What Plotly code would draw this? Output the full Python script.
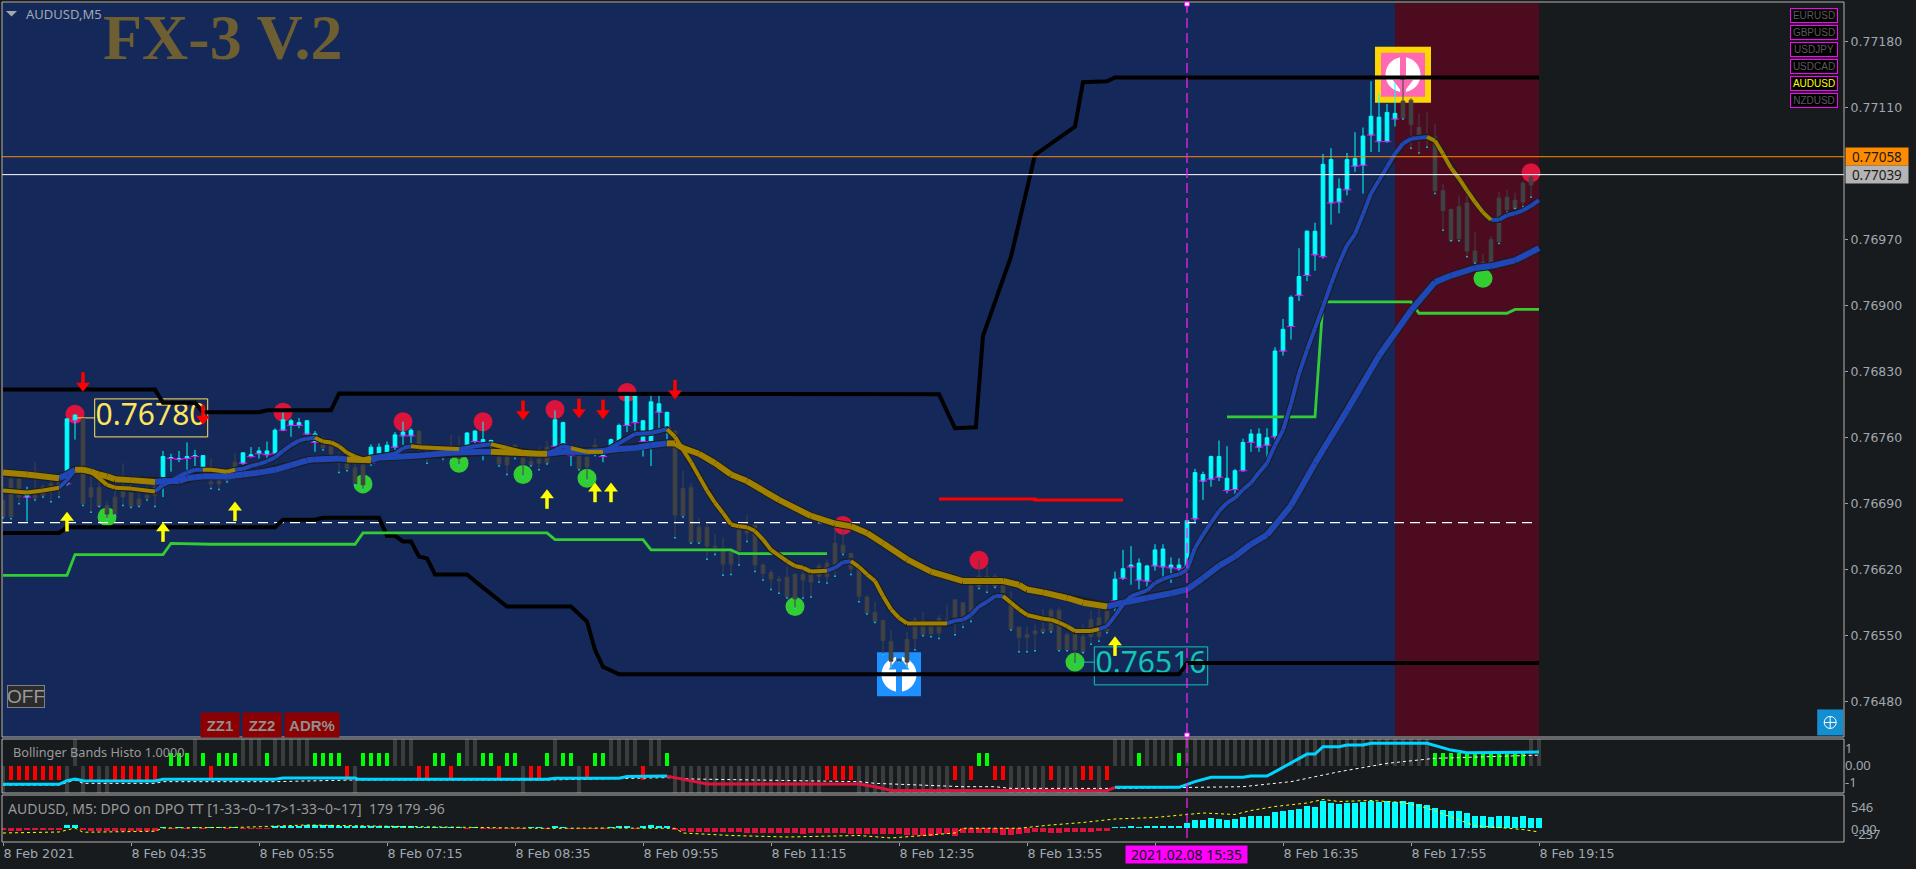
import plotly.graph_objects as go

# ---------- price data (in points, 76700 = 0.76700) ----------
body_top = [76694,76716,76716,76699,76699,76708,76711,76712,76780,76784,
76780,76707,76707,76688,76697,76704,76702,76695,76699,76708,
76740,76739,76738,76740,76741,76741,76713,76714,76720,76734,
76744,76742,76746,76746,76768,76779,76778,76776,76778,76764,
76753,76751,76740,76733,76728,76731,76750,76750,76752,76763,
76766,76768,76767,76749,76749,76749,76749,76750,76765,76767,
76758,76757,76739,76739,76752,76738,76735,76737,76750,76779,
76776,76749,76740,76739,76752,76747,76758,76773,76805,76805,
76778,76798,76796,76787,76767,76706,76707,76665,76665,76645,
76641,76639,76662,76662,76667,76625,76617,76610,76612,76615,
76615,76615,76624,76627,76648,76646,76637,76621,76591,76575,
76566,76544,76525,76546,76567,76566,76561,76568,76567,76588,
76585,76603,76613,76613,76613,76603,76586,76559,76551,76555,
76557,76577,76577,76551,76551,76549,76567,76569,76576,76610,
76621,76625,76627,76624,76641,76642,76625,76625,76672,76723,
76721,76740,76740,76717,76725,76755,76764,76764,76760,76852,
76875,76909,76931,76979,76979,77050,77055,77024,77055,77056,
77080,77101,77100,77105,77104,77117,77118,77089,77080,77079,
77022,77002,77005,77009,76958,76946,76970,77014,77015,77012,
77030,77036,77039]
body_bot = [76676,76676,76697,76697,76696,76699,76707,76706,76711,76778,
76690,76697,76687,76679,76679,76697,76687,76688,76696,76699,
76717,76738,76737,76738,76740,76728,76711,76711,76715,76727,
76733,76740,76743,76742,76743,76768,76773,76773,76764,76755,
76749,76743,76735,76727,76711,76710,76733,76741,76743,76750,
76762,76762,76749,76741,76741,76741,76741,76738,76751,76756,
76755,76752,76732,76731,76741,76732,76731,76733,76733,76751,
76753,76741,76727,76729,76743,76740,76749,76756,76773,76776,
76756,76756,76787,76770,76678,76677,76649,76649,76645,76644,
76626,76626,76640,76659,76625,76616,76610,76608,76591,76589,
76609,76607,76613,76613,76625,76638,76621,76592,76574,76565,
76545,76523,76523,76522,76547,76551,76552,76553,76566,76567,
76569,76569,76602,76606,76602,76593,76557,76548,76548,76552,
76554,76555,76535,76535,76535,76532,76549,76549,76555,76587,
76611,76623,76609,76608,76624,76623,76622,76621,76622,76674,
76714,76716,76718,76704,76705,76725,76755,76750,76752,76761,
76852,76878,76911,76932,76954,76952,77009,77010,77023,77048,
77049,77081,77074,77074,77098,77099,77092,77080,77079,77022,
77001,76969,76971,76958,76946,76944,76945,76968,77002,77003,
77010,77028,77039]
wick_high = [76726,76720,76720,76708,76734,76711,76715,76715,76780,76785,
76780,76727,76715,76693,76711,76733,76715,76706,76708,76715,
76746,76743,76746,76755,76747,76741,76738,76722,76726,76744,
76744,76750,76750,76756,76770,76787,76780,76781,76778,76767,
76761,76757,76745,76745,76733,76733,76753,76754,76756,76766,
76777,76770,76768,76752,76750,76750,76763,76762,76766,76768,
76777,76758,76754,76753,76752,76749,76745,76750,76757,76789,
76777,76752,76747,76741,76759,76749,76759,76775,76807,76807,
76779,76805,76805,76787,76768,76725,76712,76675,76668,76658,
76654,76641,76671,76678,76667,76627,76620,76614,76623,76616,
76625,76620,76627,76631,76664,76668,76638,76621,76593,76586,
76567,76556,76526,76554,76570,76575,76563,76572,76583,76588,
76585,76606,76631,76623,76616,76609,76597,76560,76560,76562,
76578,76580,76580,76553,76553,76562,76577,76580,76578,76618,
76641,76645,76632,76625,76647,76647,76633,76632,76672,76727,
76724,76741,76757,76751,76727,76759,76769,76770,76770,76856,
76886,76911,76961,76980,76988,77061,77067,77035,77062,77084,
77089,77138,77125,77114,77137,77141,77120,77104,77105,77093,
77029,77003,77017,77017,76978,76955,76974,77021,77023,77020,
77032,77040,77039]
wick_low = [76675,76674,76690,76671,76694,76697,76692,76697,76709,76758,
76688,76681,76687,76674,76678,76688,76686,76687,76694,76687,
76697,76724,76734,76726,76730,76717,76706,76705,76713,76719,
76731,76739,76738,76736,76736,76767,76761,76770,76763,76745,
76747,76741,76723,76725,76710,76705,76730,76740,76741,76747,
76752,76754,76741,76733,76740,76736,76736,76731,76749,76752,
76736,76749,76730,76721,76738,76719,76730,76726,76732,76750,
76751,76730,76726,76715,76741,76734,76747,76752,76766,76766,
76740,76730,76766,76757,76654,76676,76648,76648,76631,76636,
76614,76615,76625,76650,76618,76609,76599,76595,76590,76579,
76590,76591,76607,76606,76613,76636,76615,76586,76573,76564,
76530,76517,76522,76517,76535,76550,76549,76547,76565,76551,
76559,76565,76600,76596,76601,76592,76556,76533,76533,76534,
76553,76554,76534,76534,76520,76532,76541,76544,76553,76576,
76609,76604,76599,76600,76619,76612,76606,76617,76621,76669,
76694,76708,76714,76701,76697,76724,76745,76745,76739,76758,
76847,76864,76905,76926,76937,76950,76986,76998,77017,77042,
77019,77063,77063,77073,77090,77098,77067,77062,77068,77019,
76980,76969,76969,76952,76945,76943,76944,76966,76999,77003,
77005,77015,77039]
up_bars = [3,8,9,20,21,22,23,24,25,30,31,32,33,34,35,36,37,38,39,46,47,48,49,50,51,55,
58,59,60,61,69,70,71,75,76,77,78,79,80,81,82,83] + list(range(139,175))

# moving averages: (bar, price)
fast_x = [0,3,5,7,8,9,10,11,12,13,14,16,19,20,21,22,23,24,25,26,28,29,30,31,32,33,34,35,36,37,38,39,40,41,42,43,44,45,46,47,49,50,51,52,54,57,59,61,63,65,66,68,69,70,71,73,75,77,79,81,83,84,85,86,87,88,89,90,91,92,93,94,95,96,98,99,100,101,103,104,105,106,107,108,109,110,111,112,113,114,118,119,120,121,122,123,124,125,126,127,128,130,131,132,133,134,136,137,138,139,140,141,142,143,144,145,146,147,148,149,150,151,152,153,154,155,156,157,158,159,160,161,162,163,164,165,166,167,168,169,170,171,172,173,174,175,176,177,178,179,180,181,182,183,184,185,186,187,188,189,190,191,192]
fast_y = [76704,76702,76704,76707,76715,76726,76727,76724,76717,76710,76707,76706,76703,76710,76714,76719,76723,76726,76726,76726,76724,76726,76727,76730,76732,76735,76739,76746,76752,76757,76759,76760,76756,76755,76751,76744,76740,76737,76739,76740,76743,76749,76751,76750,76749,76748,76751,76753,76749,76745,76744,76743,76747,76751,76749,76745,76745,76754,76764,76765,76769,76761,76747,76734,76719,76704,76691,76680,76668,76666,76665,76661,76652,76641,76629,76624,76622,76618,76619,76622,76628,76629,76623,76615,76608,76592,76578,76569,76563,76563,76563,76566,76567,76572,76581,76586,76592,76592,76585,76578,76572,76568,76567,76564,76560,76555,76555,76557,76560,76571,76583,76592,76595,76598,76606,76610,76613,76615,76620,76643,76657,76670,76682,76691,76696,76705,76712,76723,76733,76752,76768,76796,76828,76853,76876,76899,76923,76945,76964,76976,76997,77019,77033,77047,77061,77072,77077,77078,77079,77075,77061,77046,77035,77022,77010,76999,76991,76991,76996,76998,77001,77006,77012]
fast_gold = [(0,7),(9,19),(25,29),(39,46),(51,57),(61,68),(71,75),(83,103),(106,118),(125,137),(178,186)]
slow_x = [0,3,7,8,9,10,11,12,13,14,16,19,20,22,23,24,25,28,29,30,32,34,36,38,39,42,43,46,47,50,52,56,60,61,64,67,68,70,73,75,77,79,81,83,84,85,87,89,91,93,97,101,104,106,108,110,113,116,120,122,125,127,128,130,133,135,138,140,143,146,148,150,152,154,156,158,161,164,168,172,176,179,181,184,186,189,192]
slow_y = [76723,76721,76717,76721,76726,76726,76724,76721,76719,76716,76715,76713,76714,76714,76717,76718,76719,76719,76720,76721,76723,76726,76731,76736,76737,76738,76737,76736,76739,76740,76741,76744,76745,76745,76744,76743,76743,76745,76745,76746,76748,76749,76752,76754,76754,76749,76743,76733,76721,76714,76694,76677,76669,76666,76659,76648,76631,76618,76608,76608,76608,76604,76599,76596,76590,76585,76581,76585,76590,76595,76599,76611,76624,76634,76647,76657,76688,76733,76789,76847,76895,76925,76932,76940,76942,76948,76961]
slow_gold = [(0,7),(9,19),(43,46),(61,68),(83,138)]

# envelope and level lines
upper_x = [0,19,20,24,25,32,33,41,42,113,114,117,119,121.6,122.5,126,129,130,134,135,138,139,192]
upper_y = [76811,76811,76797,76797,76787,76787,76789,76789,76807,76807,76806,76806,76770,76771,76868,76952,77060,77066,77090,77137,77138,77142,77142]
lower_x = [0,7,8,34,35,39,40,47,48,49,50,51,52,53,54,58,60,63,71,73,74,75,77,147,148,192]
lower_y = [76659,76659,76665,76665,76673,76673,76675,76675,76656,76656,76650,76650,76634,76632,76615,76615,76601,76581,76581,76565,76535,76517,76509,76509,76521,76521]
green1_x = [0,8,9,20,21,26,44,45,68,69,80,81,91,92,103]
green1_y = [76614,76614,76636,76636,76648,76647,76647,76659,76659,76652,76652,76641,76641,76637,76637]
green2_x = [153,164,165,176,177,188,189,192]
green2_y = [76782,76782,76904,76904,76892,76892,76896,76896]
red_x = [117,129,129,140]
red_y = [76695,76695,76694,76694]
dash_level = 76670
ask_level = 77058
bid_level = 77039

# signals
red_dot_x = [9,35,50,60,69,78,105,122,191]
red_dot_y = [76785,76787,76777,76777,76790,76808,76667,76630,77041]
green_dot_x = [13,45,57,65,73,99,134,185]
green_dot_y = [76676,76711,76733,76721,76717,76581,76522,76929]
down_arrow_x = [10,25,65,72,75,84]
down_arrow_y = [76819,76784,76789,76791,76790,76811]
up_arrow_x = [8,20,29,68,74,76,139]
up_arrow_y = [76671,76660,76682,76695,76702,76702,76539]

# indicator 1: Bollinger Bands Histo
bb_green = [21,22,23,25,27,28,29,33,39,40,41,42,45,46,47,48,54,55,57,60,61,63,64,68,70,71,74,75,83,122,123,142,147]+list(range(179,191))
bb_red = [1,2,3,4,5,6,7,11,14,15,16,17,18,19,26,43,52,53,56,62,66,67,73,80,103,104,105,106,119,121,124,125,131,135,136,138]
bb_grey_up = [9,24,30,31,32,34,35,36,37,38,49,50,51,58,59,69,76,77,78,79,81,82,139,140,141,143,144,145,146]+list(range(148,179))+[191,192]
bb_grey_down = [0,8,10,12,13,44,65,72]+list(range(84,103))+list(range(107,119))+[120,126,127,128,129,130,132,133,134,137]
bb_green_val, bb_red_val, bb_up_val, bb_down_val = 0.74, -0.85, 1.6, -1.63
bb_cyan1_x = [0,7,8,9,10,19,20,34,35,44,44.4,68,69,77,78,83]
bb_cyan1_y = [-1.11,-1.11,-0.89,-0.79,-0.89,-0.91,-0.81,-0.81,-0.73,-0.73,-0.81,-0.81,-0.75,-0.75,-0.65,-0.62]
bb_crimson_x = [83,85,88,107,109,111,125,126,138,139]
bb_crimson_y = [-0.62,-0.79,-1.09,-1.09,-1.25,-1.47,-1.47,-1.51,-1.49,-1.29]
bb_cyan2_x = [139,147,149,151,155,156,158,161,163,164,165,167,168,170,171,178,181,183,192]
bb_cyan2_y = [-1.29,-1.29,-0.95,-0.69,-0.69,-0.62,-0.62,0.18,0.69,0.69,1.13,1.13,1.23,1.23,1.33,1.33,0.93,0.77,0.81]
bb_dot_x = [0,7,9,10,19,20,34,44,68,83,86,107,109,120,124,126,139,148,155,161,167,173,179,192]
bb_dot_y = [-1.15,-1.15,-0.85,-1.05,-1.05,-0.95,-0.95,-0.85,-0.85,-0.71,-0.79,-0.95,-1.05,-1.25,-1.25,-1.35,-1.35,-1.29,-1.25,-0.95,-0.36,0.14,0.44,0.63]

# indicator 2: DPO histogram
dpo_hist = [-45,-50,-50,-40,-40,-45,-45,-45,60,60,
-40,-50,-55,-60,-65,-65,-65,-65,-60,-55,
15,-15,10,-10,5,-10,10,15,-15,15,
-10,-20,-15,-15,30,35,40,50,55,60,
60,55,50,45,40,35,35,40,45,50,
45,40,8,8,5,6,8,5,-5,5,
-8,-5,-8,-8,-8,-10,15,10,-8,35,
10,-10,-15,-15,-10,-10,20,35,25,-10,
30,55,25,35,-45,-60,-70,-70,-75,-80,
-80,-85,-85,-90,-90,-95,-95,-100,-100,-105,
-110,-105,-100,-95,-95,-100,-110,-110,-120,-120,
-115,-115,-125,-135,-145,-150,-160,-120,-120,-150,
-90,-90,-90,-90,-90,-130,-130,-110,-100,-80,
-70,-100,-90,-80,-70,-70,-70,-60,-60,10,
10,30,20,30,45,35,45,30,110,160,
160,200,180,170,180,230,250,240,240,320,
350,370,390,450,420,540,510,490,510,500,
530,540,520,540,530,540,520,480,460,400,
370,340,340,300,240,240,230,240,250,230,
240,210,200]
dpo_line_x = [0,7,9,10,19,20,30,38,50,61,68,76,84,85,91,98,107,111,119,120,127,131,135,139,144,150,154,156,159,163,165,167,171,175,178,181,184,187,190,192]
dpo_line_y = [-100,-80,0,-85,-65,0,15,60,30,0,-7,0,-7,-100,-150,-180,-150,-200,-100,-5,-5,60,110,180,210,300,270,350,430,500,570,530,550,510,400,220,45,10,-30,-80]

tick_bars = list(range(0,193,16))
tick_text = ["8 Feb 2021","8 Feb 04:35","8 Feb 05:55","8 Feb 07:15","8 Feb 08:35","8 Feb 09:55","8 Feb 11:15","8 Feb 12:35","8 Feb 13:55","","8 Feb 16:35","8 Feb 17:55","8 Feb 19:15"]
price_ticks = [0.77180,0.77110,0.76970,0.76900,0.76830,0.76760,0.76690,0.76620,0.76550,0.76480]
pairs = ["EURUSD","GBPUSD","USDJPY","USDCAD","AUDUSD","NZDUSD"]

# ---------- layout helpers ----------
W, H = 1916, 869
L, R, T, B = 2, 1844, 3, 842
NAVY, WINE, DARK = "#14295a", "#4d0b1f", "#171b1e"
GOLD, BLUE, EDGE = "#a08000", "#1f47b8", "#1c1c1c"
CANDLE = "#404244"
FONT = "Noto Sans"
def px(x): return (x - L) / (R - L)
def py(y): return (B - y) / (B - T)
def dom(y_top, y_bot): return [py(y_bot), py(y_top)]
def P(v): return v / 100000.0
def Ps(vs): return [P(v) for v in vs]
x_range = [(L - 3) / 8, (R - 3) / 8]
y_top = P(77180) + (41.7 - 3) / 94286
y_bot = P(77180) - (737 - 41.7) / 94286
n = len(body_top)
up = set(up_bars)

fig = go.Figure()
NOHOVER = dict(hoverinfo="skip", showlegend=False)

def line(x, y, color, width, yaxis="y2", dash=None, conv=True):
    fig.add_trace(go.Scatter(x=x, y=Ps(y) if conv else y, mode="lines", yaxis=yaxis,
                             line=dict(color=color, width=width, dash=dash), **NOHOVER))

def markers(x, y, symbol, color, size, yaxis="y", lw=0, conv=True):
    fig.add_trace(go.Scatter(x=x, y=Ps(y) if conv else y, mode="markers", yaxis=yaxis,
                             marker=dict(symbol=symbol, color=color, size=size,
                                         line=dict(width=lw, color=color)), **NOHOVER))

def split(xs, ys, ranges):
    gx, gy, bx, by = [], [], [], []
    for k in range(len(xs) - 1):
        mid = (xs[k] + xs[k + 1]) / 2
        gold = any(a <= mid <= b for a, b in ranges)
        tx, ty = (gx, gy) if gold else (bx, by)
        tx += [xs[k], xs[k + 1], None]
        ty += [P(ys[k]), P(ys[k + 1]), None]
    return gx, gy, bx, by

# --- layer 1: main subplot (under candles) ---
markers(red_dot_x, red_dot_y, "circle", "#dc143c", 19)
markers(green_dot_x, green_dot_y, "circle", "#32cd32", 19)
# sell / buy pictograms
markers([175], [77145], "square", "#ffd700", 56)
markers([175], [77145], "square", "#ff69b4", 44)
markers([175], [77145], "circle", "#ffffff", 35)
markers([175], [77145], "line-ns", "#ff69b4", 30, lw=6)
markers([175], [77135], "triangle-down", "#ff69b4", 18)
markers([112], [76509], "square", "#1e90ff", 44)
markers([112], [76509], "circle", "#ffffff", 35)
markers([112], [76509], "line-ns", "#1e90ff", 30, lw=6)
markers([112], [76519], "triangle-up", "#1e90ff", 18)
# zigzag labels, under the lines as in the source
fig.add_trace(go.Scatter(x=[18.5], y=[P(76781)], mode="text", text=["0.76780"], yaxis="y",
                         textfont=dict(family=FONT, size=30, color="#ffe45c"), **NOHOVER))
fig.add_trace(go.Scatter(x=[143.5], y=[P(76518)], mode="text", text=["0.76516"], yaxis="y",
                         textfont=dict(family=FONT, size=30, color="#12c4b4"), **NOHOVER))
line([9, 11.5], [76781, 76781], "#ffe45c", 1, yaxis="y")
line([134, 136.5], [76522, 76522], "#12c4b4", 1, yaxis="y")
markers([228.4], [76458], "square", "#138ed0", 26)
markers([228.4], [76458], "circle-cross-open", "#ffffff", 12, lw=1)

# --- layer 2: candles + overlays ---
xu = [i for i in range(n) if i in up]
xd = [i for i in range(n) if i not in up]
fig.add_trace(go.Candlestick(x=xu, yaxis="y2",
    open=[P(body_bot[i]) for i in xu], close=[P(body_top[i]) for i in xu],
    high=[P(wick_high[i]) for i in xu], low=[P(wick_low[i]) for i in xu],
    increasing=dict(line=dict(color="#00ffff", width=1), fillcolor="#00ffff"),
    decreasing=dict(line=dict(color="#00ffff", width=1), fillcolor="#00ffff"),
    hoverinfo="skip", showlegend=False))
fig.add_trace(go.Candlestick(x=xd, yaxis="y2",
    open=[P(body_top[i]) for i in xd], close=[P(body_bot[i]) for i in xd],
    high=[P(wick_high[i]) for i in xd], low=[P(wick_low[i]) for i in xd],
    increasing=dict(line=dict(color=CANDLE, width=1), fillcolor=CANDLE),
    decreasing=dict(line=dict(color=CANDLE, width=1), fillcolor=CANDLE),
    hoverinfo="skip", showlegend=False))
markers(xu, [body_bot[i] for i in xu], "line-ew", "#ff00ff", 6, yaxis="y2", lw=1)
markers(xd, [wick_low[i] for i in xd], "square", "#00e5ff", 1.5, yaxis="y2")

line([-0.125, 191.5], [dash_level, dash_level], "#ffffff", 1.2, dash="10px,6px")
line(upper_x, upper_y, "#000000", 4)
line(lower_x, lower_y, "#000000", 4)
line(green1_x, green1_y, "#32cd32", 2.8)
line(green2_x, green2_y, "#32cd32", 2.8)
line(red_x, red_y, "#ff0000", 3)

line(slow_x, slow_y, EDGE, 8)
line(fast_x, fast_y, EDGE, 6)
gx, gy, bx, by = split(slow_x, slow_y, slow_gold)
fig.add_trace(go.Scatter(x=bx, y=by, mode="lines", yaxis="y2", line=dict(color=BLUE, width=6), **NOHOVER))
fig.add_trace(go.Scatter(x=gx, y=gy, mode="lines", yaxis="y2", line=dict(color=GOLD, width=6), **NOHOVER))
gx, gy, bx, by = split(fast_x, fast_y, fast_gold)
fig.add_trace(go.Scatter(x=bx, y=by, mode="lines", yaxis="y2", line=dict(color=BLUE, width=4), **NOHOVER))
fig.add_trace(go.Scatter(x=gx, y=gy, mode="lines", yaxis="y2", line=dict(color=GOLD, width=4), **NOHOVER))

line([x_range[0], x_range[1]], [ask_level, ask_level], "#ff8c00", 1)
line([x_range[0], x_range[1]], [bid_level, bid_level], "#ffffff", 1)

# arrows: head + shaft
markers(up_arrow_x, [v + 4 for v in up_arrow_y], "triangle-up", "#ffff00", 12, yaxis="y2")
markers(up_arrow_x, [v - 3 for v in up_arrow_y], "line-ns", "#ffff00", 10, yaxis="y2", lw=3.5)
markers(down_arrow_x, [v - 4 for v in down_arrow_y], "triangle-down", "#ff0000", 12, yaxis="y2")
markers(down_arrow_x, [v + 3 for v in down_arrow_y], "line-ns", "#ff0000", 10, yaxis="y2", lw=3.5)

# --- panel 1 ---
def bars(x, y, color, width, axis):
    fig.add_trace(go.Bar(x=x, y=y, width=width, yaxis=axis, marker=dict(color=color, line=dict(width=0)), **NOHOVER))
bars(bb_grey_up, [bb_up_val] * len(bb_grey_up), "#3a3c3e", 0.4, "y3")
bars(bb_grey_down, [bb_down_val] * len(bb_grey_down), "#3a3c3e", 0.4, "y3")
bars(bb_green, [bb_green_val] * len(bb_green), "#00ff00", 0.62, "y3")
bars(bb_red, [bb_red_val] * len(bb_red), "#ff0000", 0.62, "y3")
line(bb_dot_x, bb_dot_y, "#ffffff", 1, yaxis="y3", dash="dot", conv=False)
line(bb_cyan1_x, bb_cyan1_y, "#00d4ff", 3, yaxis="y3", conv=False)
line(bb_crimson_x, bb_crimson_y, "#dc143c", 3, yaxis="y3", conv=False)
line(bb_cyan2_x, bb_cyan2_y, "#00d4ff", 3, yaxis="y3", conv=False)

# --- panel 2 ---
dpo_colors = ["#00ffff" if v >= 0 else "#dc143c" for v in dpo_hist]
fig.add_trace(go.Bar(x=list(range(len(dpo_hist))), y=dpo_hist, width=0.68, yaxis="y4",
                     marker=dict(color=dpo_colors, line=dict(width=0)), **NOHOVER))
line(dpo_line_x, dpo_line_y, "#ffff00", 1, yaxis="y4", dash="dot", conv=False)

# ---------- shapes ----------
shapes = [
    dict(type="rect", layer="below", xref="x", yref="y", x0=x_range[0], x1=174, y0=y_bot, y1=y_top, fillcolor=NAVY, line=dict(width=0)),
    dict(type="rect", layer="below", xref="x", yref="y", x0=174, x1=192, y0=y_bot, y1=y_top, fillcolor=WINE, line=dict(width=0)),
    dict(type="rect", layer="below", xref="x", yref="y", x0=(94.7-3)/8, x1=(207.7-3)/8, y0=P(76781)-19/94286, y1=P(76781)+19/94286, line=dict(color="#ffe45c", width=1)),
    dict(type="rect", layer="below", xref="x", yref="y", x0=(1094.3-3)/8, x1=(1207.7-3)/8, y0=P(76518)-19/94286, y1=P(76518)+19/94286, line=dict(color="#12c4b4", width=1)),
    dict(type="line", xref="x", yref="paper", x0=148, x1=148, y0=py(838), y1=1, line=dict(color="#f020f0", width=1.3, dash="10px,5px")),
    dict(type="path", xref="paper", yref="paper", fillcolor="#a0a8b0", line=dict(width=0),
         path=f"M {px(6)} {py(11)} L {px(17)} {py(11)} L {px(11.5)} {py(16.5)} Z"),
]
for top, bot in [(T - 1, 737), (739, 793), (795, 842)]:
    shapes.append(dict(type="rect", xref="paper", yref="paper", x0=0, x1=1, y0=py(bot), y1=py(top), line=dict(color="#b4b4b4", width=1)))
for yy in (4, 735):
    shapes.append(dict(type="rect", xref="x", yref="paper", x0=147.7, x1=148.3, y0=py(yy + 2), y1=py(yy - 2), fillcolor="#ffffff", line=dict(color="#ff00ff", width=1)))

# ---------- annotations ----------
def note(x, y, text, size=13, color="#a0a8b0", family=FONT, anchor="left", **kw):
    return dict(xref="paper", yref="paper", x=px(x), y=py(y), text=text, showarrow=False,
                xanchor=anchor, yanchor="middle", font=dict(size=size, color=color, family=family), **kw)

ann = [
    note(222, 38, "<b>FX-3 V.2</b>", size=64, color="#6e5f33", family="Liberation Serif", anchor="center"),
    note(24, 14, "AUDUSD,M5", size=13),
    note(11, 752, "Bollinger Bands Histo 1.0000", size=12.7, color="#9a9a9a"),
    note(6, 808, "AUDUSD, M5: DPO on DPO TT [1-33~0~17&gt;1-33~0~17]  179 179 -96", size=14, color="#9a9a9a"),
    note(1849, 807, "546", size=13),
    note(1849, 829, "0.00", size=13),
    note(1852, 833.5, "-237", size=13),
    note(1186.5, 854.5, "2021.02.08 15:35", size=14, color="#101010", anchor="center", bgcolor="#ff00ff", width=121, height=17, borderpad=0),
    note(1877, 156.5, "0.77058", size=13.5, color="#1a1a1a", anchor="center", bgcolor="#ff8c00", width=62, height=17, borderpad=0),
    note(1877, 174.5, "0.77039", size=13.5, color="#1a1a1a", anchor="center", bgcolor="#b4b4b4", width=62, height=17, borderpad=0),
    note(25.5, 696, "OFF", size=19, color="#9a9a9a", family="Liberation Sans", anchor="center", bgcolor="#2c2c2c", bordercolor="#808080", borderwidth=1, width=36, height=21, borderpad=0),
]
for x0, wd, label in [(201, 38, "ZZ1"), (243, 38, "ZZ2"), (285, 54, "ADR%")]:
    ann.append(note(x0 + wd / 2, 724.5, f"<b>{label}</b>", size=15, color="#8f8f8f", family="Liberation Sans", anchor="center",
                    bgcolor="#8b0000", width=wd, height=24, borderpad=0))
for k, name in enumerate(pairs):
    col = "#ffff00" if name == "AUDUSD" else "#5a5a5a"
    ann.append(note(1813.5, 15.8 + 17 * k, name, size=10, color=col, family="Liberation Sans", anchor="center",
                    bgcolor="#000000", bordercolor="#ff00ff", borderwidth=1, width=46, height=13, borderpad=0))

fig.update_layout(
    width=W, height=H, autosize=False,
    margin=dict(l=L, r=W - R, t=T, b=H - B, pad=0),
    paper_bgcolor=DARK, plot_bgcolor=DARK,
    barmode="overlay", bargap=0, boxgap=0.35,
    showlegend=False, dragmode=False,
    shapes=shapes, annotations=ann,
    xaxis=dict(domain=[0, 1], range=x_range, anchor="y4", side="bottom", showgrid=False, zeroline=False,
               tickmode="array", tickvals=tick_bars, ticktext=tick_text, ticks="outside", ticklen=3,
               tickcolor="#a0a0a0", tickfont=dict(family="DejaVu Sans", size=12.7, color="#a0a8b0"),
               ticklabelposition="outside right", showline=False, rangeslider=dict(visible=False)),
    yaxis=dict(domain=dom(T, 737), range=[y_bot, y_top], side="right", anchor="x", showgrid=False, zeroline=False,
               tickmode="array", tickvals=price_ticks, ticktext=[f"{v:.5f}" for v in price_ticks], ticks="outside",
               ticklen=3, tickcolor="#a0a0a0", tickfont=dict(family="DejaVu Sans", size=12.5, color="#a0a8b0")),
    yaxis2=dict(domain=dom(T, 737), range=[y_bot, y_top], overlaying="y", side="right", anchor="x", visible=False),
    yaxis3=dict(domain=dom(739, 793), range=[-1.625, 1.59], side="right", anchor="x", showgrid=False, zeroline=False,
                tickmode="array", tickvals=[1, 0, -1], ticktext=["1", "0.00", "-1"], ticks="",
                tickfont=dict(family=FONT, size=13, color="#a0a8b0")),
    yaxis4=dict(domain=dom(795, 842), range=[-280, 660], side="right", anchor="x", showgrid=False, zeroline=False,
                showticklabels=False, ticks=""),
)
fig.write_html("out.html", config={"displayModeBar": False},
               post_script="document.body.style.margin='0';document.body.style.overflow='hidden';")
